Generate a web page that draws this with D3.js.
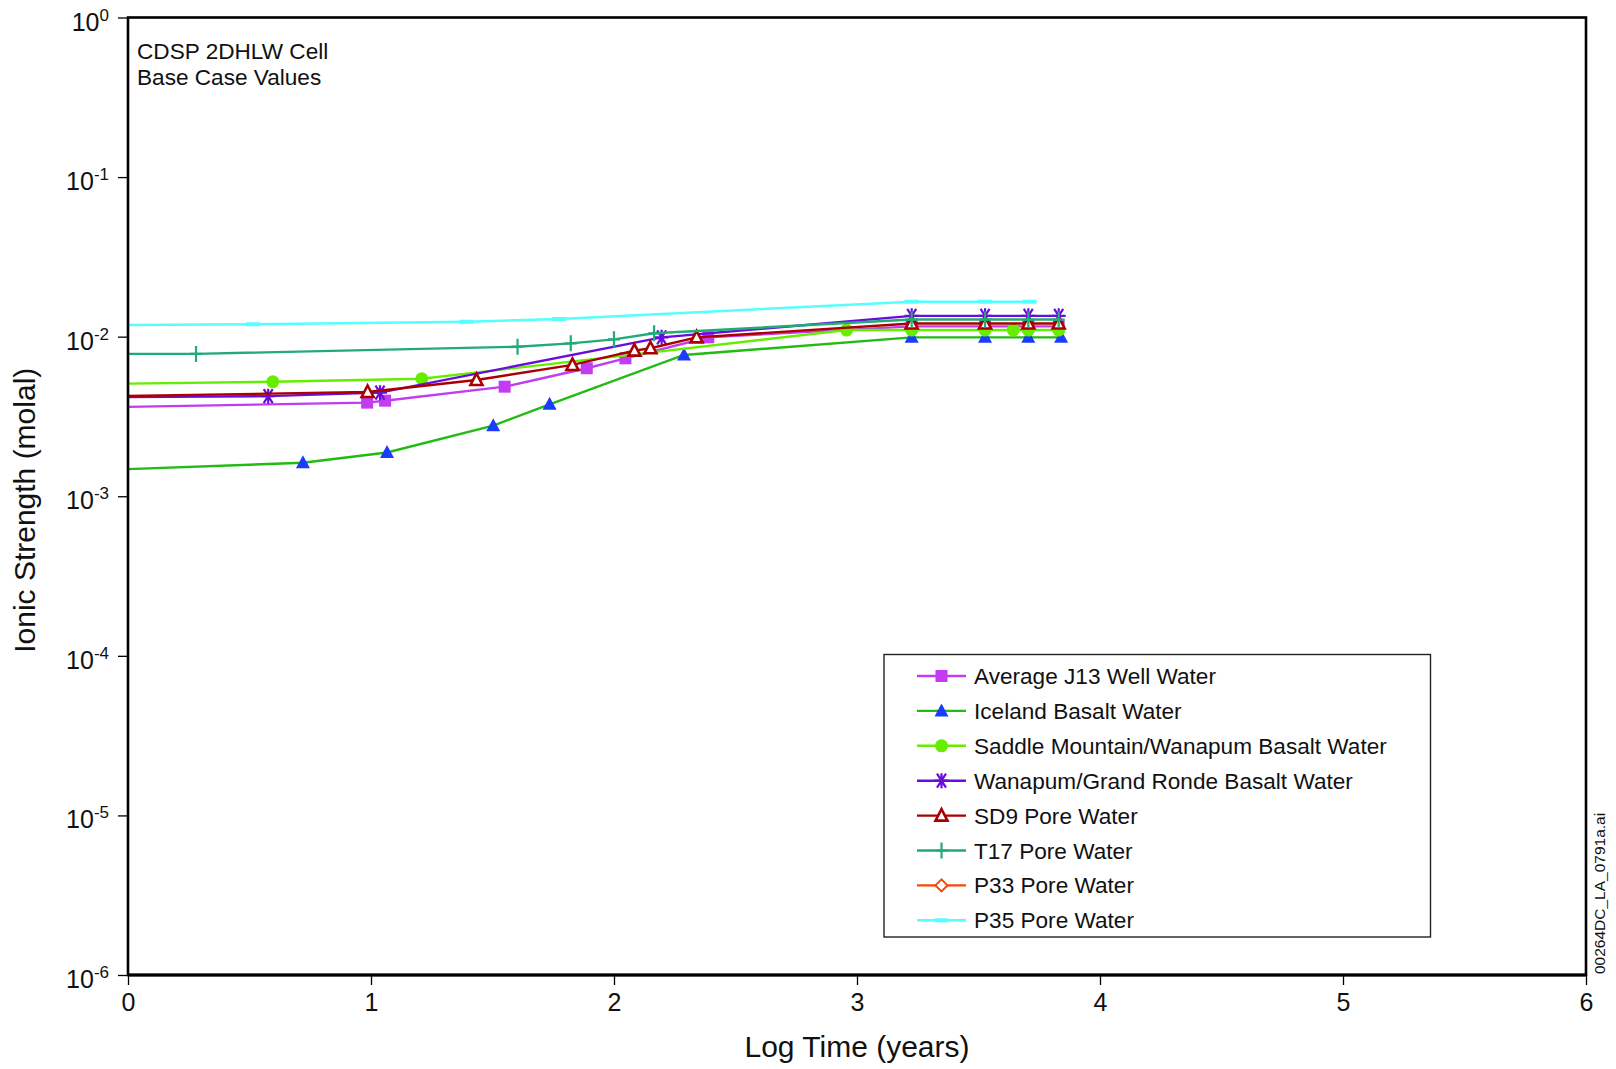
<!DOCTYPE html>
<html><head><meta charset="utf-8">
<script src="https://cdn.jsdelivr.net/npm/d3@7"></script>
<style>
html,body{margin:0;padding:0;background:#fff;}
svg{display:block;font-family:"Liberation Sans",Arial,sans-serif;}
</style></head>
<body><svg id="chart" width="1616" height="1069"></svg>
<script>
// ---- data ----
const seriesNames = ["Average J13 Well Water","Iceland Basalt Water","Saddle Mountain/Wanapum Basalt Water",
  "Wanapum/Grand Ronde Basalt Water","SD9 Pore Water","T17 Pore Water","P33 Pore Water","P35 Pore Water"];

const j13Time = [0, 0.984, 1.058, 1.550, 1.888, 2.047, 2.388, 3.225, 3.527, 3.705, 3.83];
const j13Ionic = [0.00363, 0.00386, 0.00397, 0.00486, 0.00634, 0.00732, 0.00991, 0.0116, 0.0116, 0.0116, 0.0116];

const icelandTime = [0, 0.720, 1.066, 1.503, 1.735, 2.288, 3.225, 3.527, 3.705, 3.84];
const icelandIonic = [0.00148, 0.00162, 0.00188, 0.00277, 0.00377, 0.00768, 0.0099, 0.0099, 0.0099, 0.0099];

const saddleTime = [0, 0.596, 1.209, 2.957, 3.225, 3.527, 3.643, 3.705, 3.83];
const saddleIonic = [0.00508, 0.00522, 0.00545, 0.0110, 0.0110, 0.0110, 0.0110, 0.0110, 0.0110];

const wanapumTime = [0, 0.577, 1.037, 2.196, 3.225, 3.527, 3.705, 3.83];
const wanapumIonic = [0.00418, 0.00424, 0.00446, 0.00990, 0.0135, 0.0135, 0.0135, 0.0135];

const sd9Time = [0, 0.986, 1.434, 1.829, 2.084, 2.150, 2.340, 3.225, 3.527, 3.705, 3.83];
const sd9Ionic = [0.00425, 0.00450, 0.00535, 0.00665, 0.00817, 0.00846, 0.0099, 0.0121, 0.0121, 0.0121, 0.0121];

const t17Time = [0, 0.28, 1.603, 1.822, 2.0, 2.165, 3.225, 3.527, 3.705, 3.83];
const t17Ionic = [0.0078, 0.0078, 0.00865, 0.00908, 0.00962, 0.0105, 0.0128, 0.0128, 0.0128, 0.0128];

const p33Time = [];
const p33Ionic = [];

const p35Time = [0, 0.515, 1.393, 1.775, 3.225, 3.527, 3.71];
const p35Ionic = [0.01184, 0.01196, 0.0124, 0.0129, 0.01656, 0.01656, 0.01656];

const xTicks = [0,1,2,3,4,5,6];
const yTickExps = [0,-1,-2,-3,-4,-5,-6];
const titleLines = ["CDSP 2DHLW Cell","Base Case Values"];
const xLabel = "Log Time (years)";
const yLabel = "Ionic Strength (molal)";
const watermark = "00264DC_LA_0791a.ai";

// ---- styles ----
const styles = [
  {line:"#c23cf2", fill:"#c23cf2", stroke:"none", shape:"square"},
  {line:"#22bb11", fill:"#1a3cff", stroke:"none", shape:"triangle"},
  {line:"#66ee00", fill:"#66ee00", stroke:"none", shape:"circle"},
  {line:"#6a0ddc", fill:"none", stroke:"#6a0ddc", shape:"asterisk"},
  {line:"#aa0000", fill:"none", stroke:"#aa0000", shape:"otriangle"},
  {line:"#22aa77", fill:"none", stroke:"#22aa77", shape:"plus"},
  {line:"#ff4400", fill:"none", stroke:"#ff4400", shape:"diamond"},
  {line:"#55ffff", fill:"#55ffff", stroke:"none", shape:"dash"}
];
const times = [j13Time, icelandTime, saddleTime, wanapumTime, sd9Time, t17Time, p33Time, p35Time];
const vals = [j13Ionic, icelandIonic, saddleIonic, wanapumIonic, sd9Ionic, t17Ionic, p33Ionic, p35Ionic];
const series = seriesNames.map((n,i)=>({name:n, style:styles[i], pts: times[i].map((t,j)=>({t, v:vals[i][j]}))}));

const svg = d3.select("#chart");
const L=128, R=1586, T=17.5, B=975;
const x = d3.scaleLinear().domain([0,6]).range([L,R]);
const y = d3.scaleLog().domain([1e-6,1]).range([B,T]);

function markerPath(shape){
  switch(shape){
    case "square": return "M-6,-6H6V6H-6Z";
    case "triangle": return "M0,-7.5L7,5.5H-7Z";
    case "otriangle": return "M0,-6.5L6,5H-6Z";
    case "diamond": return "M0,-6L6,0L0,6L-6,0Z";
    case "plus": return "M-6,0H6M0,-8V8";
    case "asterisk": return "M-7,0H7M-4.5,-7L4.5,7M4.5,-7L-4.5,7M0,-7.5V7.5";
    case "dash": return "M-7,-2H7V2H-7Z";
  }
  return "";
}
function drawMarker(g, st, cx, cy){
  if(st.shape==="circle"){
    g.append("circle").attr("cx",cx).attr("cy",cy).attr("r",6.5).attr("fill",st.fill);
  } else {
    const p = g.append("path").attr("d",markerPath(st.shape)).attr("transform",`translate(${cx},${cy})`);
    if(st.shape==="otriangle"){ p.attr("fill","#fff").attr("stroke",st.stroke).attr("stroke-width",2.6); }
    else if(st.shape==="diamond"){ p.attr("fill","#fff").attr("stroke",st.stroke).attr("stroke-width",2); }
    else if(st.shape==="plus"||st.shape==="asterisk"){ p.attr("fill","none").attr("stroke",st.stroke).attr("stroke-width",2.2); }
    else p.attr("fill",st.fill);
  }
}

// series
const line = d3.line().x(d=>x(d.t)).y(d=>y(d.v));
const gS = svg.append("g");
series.forEach(s=>{
  if(!s.pts.length) return;
  const g = gS.append("g");
  g.append("path").attr("d",line(s.pts)).attr("fill","none").attr("stroke",s.style.line).attr("stroke-width",2.4);
  s.pts.filter(d=>d.t>0).forEach(d=>drawMarker(g, s.style, x(d.t), y(d.v)));
});

// frame
svg.append("rect").attr("x",L).attr("y",T).attr("width",R-L).attr("height",B-T)
  .attr("fill","none").attr("stroke","#000").attr("stroke-width",2.6);
svg.append("line").attr("x1",L).attr("x2",R).attr("y1",B).attr("y2",B).attr("stroke","#000").attr("stroke-width",3.2);

// axes
const xAxis = d3.axisBottom(x).tickValues(xTicks).tickSize(10).tickPadding(8).tickFormat(d3.format("d"));
const gx = svg.append("g").attr("transform",`translate(0,${B})`).call(xAxis);
gx.select(".domain").remove();
gx.selectAll(".tick line").attr("stroke","#000").attr("stroke-width",1.3);
gx.selectAll(".tick text").attr("font-size",25).attr("fill","#111").attr("font-family","Liberation Sans, Arial, sans-serif");

const yAxis = d3.axisLeft(y).tickValues(yTickExps.map(e=>Math.pow(10,e))).tickSize(10).tickPadding(9).tickFormat(()=>"");
const gy = svg.append("g").attr("transform",`translate(${L},0)`).call(yAxis);
gy.select(".domain").remove();
gy.selectAll(".tick line").attr("stroke","#000").attr("stroke-width",1.3);
gy.selectAll(".tick text").each(function(d){
  const e = Math.round(Math.log10(d));
  const t = d3.select(this).attr("font-size",25).attr("fill","#111").attr("font-family","Liberation Sans, Arial, sans-serif")
    .attr("dy","0.5em");
  t.text(null);
  t.append("tspan").text("10");
  t.append("tspan").attr("font-size",17).attr("dy",-10).text(String(e));
});

// axis labels
svg.append("text").attr("x",(L+R)/2).attr("y",1057).attr("text-anchor","middle")
  .attr("font-size",30).attr("fill","#111").text(xLabel);
svg.append("text").attr("transform",`translate(35,${(T+B)/2 + 14}) rotate(-90)`).attr("text-anchor","middle")
  .attr("font-size",30).attr("fill","#111").text(yLabel);

// title
titleLines.forEach((s,i)=>svg.append("text").attr("x",137).attr("y",59+i*26).attr("font-size",22.6).attr("fill","#111").text(s));

// watermark
svg.append("text").attr("transform",`translate(1605,974) rotate(-90)`).attr("font-size",15.5).attr("fill","#111").text(watermark);

// legend
const lg = svg.append("g");
lg.append("rect").attr("x",884).attr("y",654.5).attr("width",546.5).attr("height",282.5)
  .attr("fill","#fff").attr("stroke","#222").attr("stroke-width",1.4);
series.forEach((s,i)=>{
  const cy = 676 + i*34.9;
  lg.append("line").attr("x1",917).attr("x2",966).attr("y1",cy).attr("y2",cy).attr("stroke",s.style.line).attr("stroke-width",2.4);
  drawMarker(lg, s.style, 941.5, cy);
  lg.append("text").attr("x",974).attr("y",cy+8).attr("font-size",22.6).attr("fill","#111").text(s.name);
});
</script></body></html>
